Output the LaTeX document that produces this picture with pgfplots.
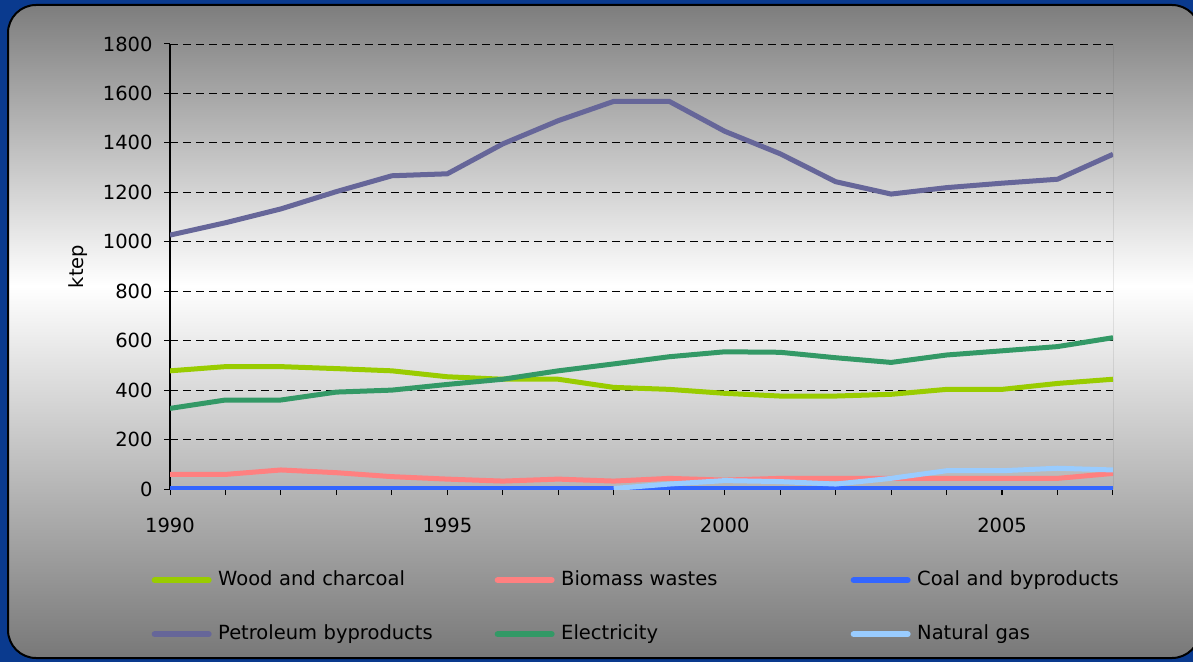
\documentclass[border=0pt]{standalone}
\usepackage{fontspec}
\setmainfont{DejaVu Sans}
\usepackage{pgfplots}
\pgfplotsset{compat=1.18}
\definecolor{bgblue}{RGB}{10,58,142}
\definecolor{cwood}{RGB}{153,204,0}
\definecolor{cbio}{RGB}{255,128,128}
\definecolor{ccoal}{RGB}{51,102,255}
\definecolor{cpet}{RGB}{102,102,153}
\definecolor{celec}{RGB}{51,153,102}
\definecolor{cgas}{RGB}{153,204,255}
\definecolor{gtop}{RGB}{125,125,125}
\definecolor{gbot}{RGB}{120,120,120}
\pgfdeclareverticalshading{panel}{100bp}{color(0bp)=(gbot); color(25bp)=(gbot); color(53.5bp)=(white); color(75bp)=(gtop); color(100bp)=(gtop)}
\begin{document}
\begin{tikzpicture}[font=\fontsize{19.5}{23}\selectfont]
\useasboundingbox (0,0) rectangle (1193pt,662pt);
\fill[bgblue] (0,0) rectangle (1193pt,662pt);
\shade[shading=panel, draw=black, line width=2pt, rounded corners=28pt] (8pt,4pt) rectangle (1200pt,657pt);
\begin{axis}[
  at={(170pt,173pt)}, anchor=south west,
  scale only axis, width=943pt, height=445pt,
  xmin=1990, xmax=2007, ymin=0, ymax=1800,
  axis x line*=bottom, axis y line*=left,
  x axis line style={gray, line width=1pt},
  y axis line style={black, line width=1.5pt},
  xtick={1990,1995,2000,2005},
  minor xtick={1990,...,2007},
  ytick={0,200,...,1800},
  tick align=outside,
  major tick length=6pt, minor tick length=6pt,
  tick style={black, line width=1pt},
  ymajorgrids,
  major grid style={black, dash pattern=on 8pt off 5pt, line width=0.8pt},
  /pgf/number format/assume math mode=true,
  /pgf/number format/1000 sep={},
  xticklabel style={yshift=-19pt},
  yticklabel style={xshift=-8pt},
  ylabel={ktep},
  ylabel style={at={(axis description cs:-0.0976,0.5)}, anchor=center, rotate=0},
  line join=round,
  legend columns=3,
  legend image code/.code={\path (0pt,0pt) (60pt,0pt); \draw[#1, line width=6pt, line cap=round] (3pt,0pt) -- (57pt,0pt);},
  legend style={at={(-0.0223,-0.1843)}, anchor=north west, draw=none, fill=none, inner sep=0pt,
    row sep=36pt,
    nodes={inner sep=0pt, text height=14pt, text depth=4pt, anchor=west},
    /tikz/every odd column/.append style={column sep=4pt},
    /tikz/column 2/.append style={column sep=24pt},
    /tikz/column 4/.append style={column sep=37pt},
    /tikz/every even column/.append style={text width=250pt, align=left}},
]
\addplot[cwood, line width=5pt] coordinates {(1990,478)(1991,495)(1992,495)(1993,487)(1994,478)(1995,454)(1996,444)(1997,444)(1998,411)(1999,403)(2000,387)(2001,376)(2002,376)(2003,383)(2004,403)(2005,403)(2006,427)(2007,444)};
\addlegendentry{Wood and charcoal}
\addplot[cbio, line width=5pt] coordinates {(1990,59)(1991,59)(1992,77)(1993,66)(1994,50)(1995,40)(1996,32)(1997,40)(1998,32)(1999,43)(2000,36)(2001,43)(2002,43)(2003,43)(2004,43)(2005,43)(2006,43)(2007,63)};
\addlegendentry{Biomass wastes}
\addplot[ccoal, line width=3.5pt] coordinates {(1990,4)(1991,4)(1992,4)(1993,4)(1994,4)(1995,4)(1996,4)(1997,4)(1998,4)(1999,4)(2000,4)(2001,4)(2002,4)(2003,4)(2004,4)(2005,4)(2006,4)(2007,4)};
\addlegendentry{Coal and byproducts}
\addplot[cpet, line width=5pt] coordinates {(1990,1027)(1991,1077)(1992,1133)(1993,1203)(1994,1267)(1995,1275)(1996,1396)(1997,1490)(1998,1568)(1999,1568)(2000,1447)(2001,1356)(2002,1243)(2003,1193)(2004,1219)(2005,1237)(2006,1253)(2007,1354)};
\addlegendentry{Petroleum byproducts}
\addplot[celec, line width=5pt] coordinates {(1990,326)(1991,360)(1992,360)(1993,392)(1994,400)(1995,423)(1996,444)(1997,478)(1998,506)(1999,535)(2000,555)(2001,553)(2002,531)(2003,512)(2004,542)(2005,559)(2006,576)(2007,612)};
\addlegendentry{Electricity}
\addplot[cgas, line width=5pt] coordinates {(1998,2)(1999,20)(2000,34)(2001,30)(2002,20)(2003,43)(2004,74)(2005,74)(2006,84)(2007,77)};
\addlegendentry{Natural gas}
\draw[gray!60!black, line width=1pt] (rel axis cs:1,0) -- (rel axis cs:1,1);
\end{axis}
\end{tikzpicture}
\end{document}
